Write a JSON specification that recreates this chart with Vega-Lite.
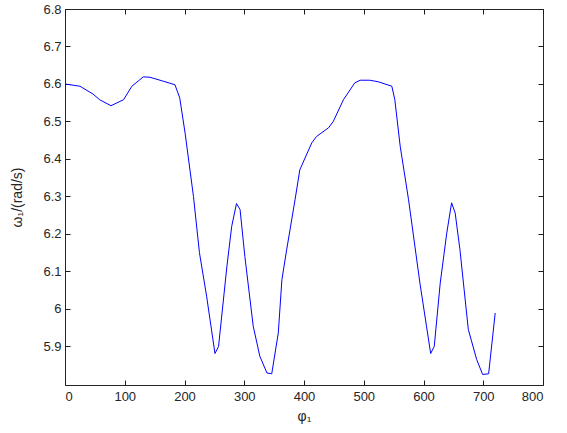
{
  "$schema": "https://vega.github.io/schema/vega-lite/v6.json",
  "width": 478,
  "height": 376,
  "autosize": {"type": "none"},
  "padding": {"left": 65, "top": 9, "right": 24, "bottom": 48},
  "background": "white",
  "config": {
    "view": {"stroke": "#262626", "strokeWidth": 1},
    "axis": {
      "domain": false,
      "ticks": false,
      "grid": true,
      "gridColor": "#1a1a1a",
      "gridOpacity": 1,
      "gridWidth": 1,
      "labelColor": "#262626",
      "titleColor": "#262626",
      "labelFont": "Liberation Sans",
      "titleFont": "Liberation Sans",
      "labelFontSize": 13,
      "titleFontSize": 14,
      "titleFontWeight": "normal"
    }
  },
  "data": {
    "values": [
      {"phi": 0, "omega": 6.6},
      {"phi": 25, "omega": 6.594},
      {"phi": 47, "omega": 6.573},
      {"phi": 58, "omega": 6.558},
      {"phi": 77, "omega": 6.542},
      {"phi": 98, "omega": 6.558},
      {"phi": 112, "omega": 6.594},
      {"phi": 131, "omega": 6.619},
      {"phi": 142, "omega": 6.618},
      {"phi": 159, "omega": 6.61},
      {"phi": 184, "omega": 6.598},
      {"phi": 192, "omega": 6.563},
      {"phi": 201, "omega": 6.469},
      {"phi": 215, "omega": 6.3},
      {"phi": 225, "omega": 6.15},
      {"phi": 237, "omega": 6.034},
      {"phi": 251, "omega": 5.881},
      {"phi": 257, "omega": 5.9},
      {"phi": 271, "omega": 6.114},
      {"phi": 279, "omega": 6.22},
      {"phi": 287, "omega": 6.281},
      {"phi": 293, "omega": 6.265},
      {"phi": 301, "omega": 6.14},
      {"phi": 315, "omega": 5.954},
      {"phi": 326, "omega": 5.874},
      {"phi": 338, "omega": 5.829},
      {"phi": 346, "omega": 5.827},
      {"phi": 357, "omega": 5.936},
      {"phi": 363, "omega": 6.078},
      {"phi": 371, "omega": 6.158},
      {"phi": 385, "omega": 6.291},
      {"phi": 393, "omega": 6.371},
      {"phi": 413, "omega": 6.443},
      {"phi": 421, "omega": 6.46},
      {"phi": 441, "omega": 6.483},
      {"phi": 449, "omega": 6.5},
      {"phi": 466, "omega": 6.558},
      {"phi": 485, "omega": 6.603},
      {"phi": 494, "omega": 6.61},
      {"phi": 510, "omega": 6.61},
      {"phi": 524, "omega": 6.606},
      {"phi": 547, "omega": 6.594},
      {"phi": 552, "omega": 6.558},
      {"phi": 561, "omega": 6.434},
      {"phi": 575, "omega": 6.291},
      {"phi": 594, "omega": 6.069},
      {"phi": 605, "omega": 5.954},
      {"phi": 612, "omega": 5.881},
      {"phi": 618, "omega": 5.9},
      {"phi": 628, "omega": 6.069},
      {"phi": 639, "omega": 6.203},
      {"phi": 647, "omega": 6.283},
      {"phi": 653, "omega": 6.256},
      {"phi": 661, "omega": 6.158},
      {"phi": 675, "omega": 5.945},
      {"phi": 689, "omega": 5.865},
      {"phi": 699, "omega": 5.825},
      {"phi": 709, "omega": 5.827},
      {"phi": 720, "omega": 5.989}
    ]
  },
  "mark": {"type": "line", "color": "#0000ff", "strokeWidth": 1, "clip": true},
  "encoding": {
    "x": {
      "field": "phi", "type": "quantitative",
      "scale": {"domain": [0, 800], "nice": false, "zero": false},
      "axis": {"orient": "bottom", "values": [0, 100, 200, 300, 400, 500, 600, 700, 800], "gridDash": [5, 366, 5], "title": "φ₁", "labelPadding": 5, "titlePadding": 6}
    },
    "y": {
      "field": "omega", "type": "quantitative",
      "scale": {"domain": [5.797, 6.8], "nice": false, "zero": false},
      "axis": {"orient": "left", "values": [5.9, 6, 6.1, 6.2, 6.3, 6.4, 6.5, 6.6, 6.7, 6.8], "format": "~g", "gridDash": [5, 468, 5], "title": "ω₁/(rad/s)", "labelPadding": 4, "titlePadding": 18}
    }
  }
}
